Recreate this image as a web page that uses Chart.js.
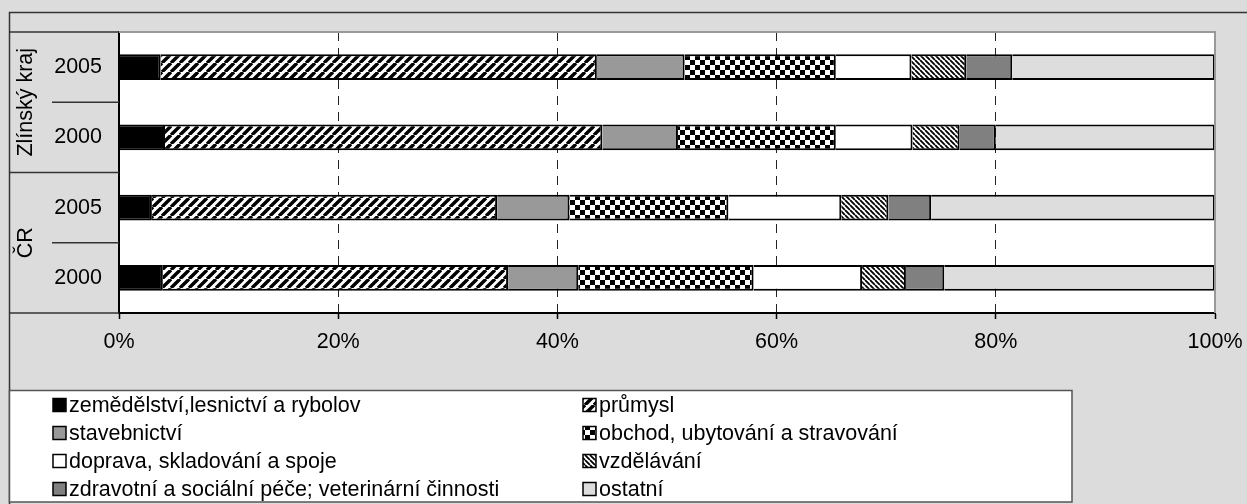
<!DOCTYPE html>
<html><head><meta charset="utf-8">
<script src="https://cdn.jsdelivr.net/npm/chart.js@4/dist/chart.umd.min.js"></script>
<style>html,body{margin:0;padding:0;background:#dcdcdc;overflow:hidden}#wrap{position:relative;width:1247px;height:504px}</style>
</head><body><div id="wrap"><canvas id="c" width="1247" height="504"></canvas></div>
<script>
const groups = ['Zlínský kraj', 'ČR'];
const years = ['2005', '2000', '2005', '2000'];
const xTicks = [0, 20, 40, 60, 80, 100];
const sectorNames = [
  'zemědělství,lesnictví a rybolov',
  'průmysl',
  'stavebnictví',
  'obchod, ubytování a stravování',
  'doprava, skladování a spoje',
  'vzdělávání',
  'zdravotní a sociální péče; veterinární činnosti',
  'ostatní'
];
const zemedelstvi = [3.8, 4.2, 3.0, 4.0];
const prumysl = [39.8, 39.9, 31.5, 31.5];
const stavebnictvi = [8.0, 6.9, 6.6, 6.4];
const obchod = [13.8, 14.4, 14.5, 16.0];
const doprava = [6.9, 7.0, 10.3, 9.9];
const vzdelavani = [5.0, 4.3, 4.3, 4.0];
const zdravotni = [4.2, 3.3, 3.9, 3.5];
const ostatni = [18.5, 20.0, 25.9, 24.7];

const FONT = "Arial, 'Liberation Sans', sans-serif";
const FS = 21.5;

function makePattern(kind) {
  const c = document.createElement('canvas');
  const g = c.getContext('2d');
  if (kind === 'fwd') {
    const p = 9; c.width = c.height = p;
    g.fillStyle = '#fff'; g.fillRect(0, 0, p, p);
    g.strokeStyle = '#000'; g.lineWidth = 3.4; g.beginPath();
    for (const x0 of [-p, 0, p]) { g.moveTo(x0, p); g.lineTo(x0 + p, 0); }
    g.stroke();
  } else if (kind === 'back') {
    const p = 5; c.width = c.height = p;
    g.fillStyle = '#fff'; g.fillRect(0, 0, p, p);
    g.strokeStyle = '#000'; g.lineWidth = 1.8; g.beginPath();
    for (const x0 of [-p, 0, p]) { g.moveTo(x0, 0); g.lineTo(x0 + p, p); }
    g.stroke();
  } else {
    const s = 5; c.width = c.height = 2 * s;
    g.fillStyle = '#fff'; g.fillRect(0, 0, 2 * s, 2 * s);
    g.fillStyle = '#000'; g.fillRect(0, 0, s, s); g.fillRect(s, s, s, s);
  }
  return g.createPattern(c, 'repeat');
}

const fills = ['#000000', makePattern('fwd'), '#999999', makePattern('check'), '#ffffff', makePattern('back'), '#808080', '#dddddd'];
const series = [zemedelstvi, prumysl, stavebnictvi, obchod, doprava, vzdelavani, zdravotni, ostatni];

const datasets = series.map((d, i) => ({
  label: sectorNames[i],
  data: d,
  backgroundColor: fills[i],
  borderColor: '#000',
  borderWidth: 2,
  borderSkipped: 'start',
  barPercentage: 0.37,
  categoryPercentage: 1.0
}));

const framePlugin = {
  id: 'frame',
  beforeDraw(chart) {
    const ctx = chart.ctx, a = chart.chartArea;
    ctx.save();
    ctx.fillStyle = '#dcdcdc';
    ctx.fillRect(0, 0, chart.width, chart.height);
    ctx.strokeStyle = '#333'; ctx.lineWidth = 1.5;
    ctx.beginPath();
    ctx.moveTo(9.5, chart.height); ctx.lineTo(9.5, 12.5); ctx.lineTo(chart.width, 12.5);
    ctx.stroke();
    ctx.fillStyle = '#fff';
    ctx.fillRect(a.left, a.top, a.right - a.left, a.bottom - a.top);
    ctx.restore();
  },
  afterDraw(chart) {
    const ctx = chart.ctx, a = chart.chartArea, ys = chart.scales.y;
    ctx.save();
    // plot border top/right
    ctx.strokeStyle = '#999'; ctx.lineWidth = 2;
    ctx.beginPath();
    ctx.moveTo(a.left, a.top); ctx.lineTo(a.right, a.top); ctx.lineTo(a.right, a.bottom);
    ctx.stroke();
    // left panel separators
    ctx.strokeStyle = '#333'; ctx.lineWidth = 1.5;
    ctx.beginPath();
    ctx.moveTo(9.5, a.top); ctx.lineTo(a.left, a.top);
    ctx.moveTo(9.5, a.bottom); ctx.lineTo(a.left, a.bottom);
    for (let i = 0; i < years.length - 1; i++) {
      const y = (ys.getPixelForValue(i) + ys.getPixelForValue(i + 1)) / 2;
      ctx.moveTo(i % 2 === 1 ? 9.5 : 52, y); ctx.lineTo(a.left, y);
    }
    ctx.stroke();
    // group labels
    ctx.fillStyle = '#000';
    ctx.font = FS + 'px ' + FONT;
    ctx.textAlign = 'center'; ctx.textBaseline = 'middle';
    groups.forEach((g, gi) => {
      const yc = (ys.getPixelForValue(2 * gi) + ys.getPixelForValue(2 * gi + 1)) / 2;
      ctx.save(); ctx.translate(26, yc); ctx.rotate(-Math.PI / 2);
      ctx.fillText(g, 0, 0); ctx.restore();
    });
    // legend
    const L = 9.5, T = 390.5, R = 1072, B = 502;
    ctx.fillStyle = '#fff'; ctx.fillRect(L, T, R - L, B - T);
    ctx.strokeStyle = '#555'; ctx.lineWidth = 1.5;
    ctx.strokeRect(L, T, R - L, B - T);
    ctx.textAlign = 'left';
    chart.data.datasets.forEach((ds, i) => {
      const row = Math.floor(i / 2), col = i % 2;
      const x = col === 0 ? 53 : 583;
      const yc = 405 + row * 28;
      ctx.fillStyle = ds.backgroundColor;
      ctx.fillRect(x, yc - 6.5, 13, 13);
      ctx.strokeStyle = '#000'; ctx.lineWidth = 1.5;
      ctx.strokeRect(x, yc - 6.5, 13, 13);
      ctx.fillStyle = '#000';
      ctx.fillText(ds.label, x + 16, yc + 1);
    });
    ctx.restore();
  }
};

new Chart(document.getElementById('c'), {
  type: 'bar',
  data: { labels: years, datasets },
  options: {
    indexAxis: 'y',
    responsive: false,
    animation: false,
    devicePixelRatio: 1,
    layout: { padding: { left: 0, top: 32, right: 32, bottom: 131 } },
    plugins: { legend: { display: false }, tooltip: { enabled: false } },
    scales: {
      x: {
        type: 'linear', stacked: true, min: 0, max: 100, position: 'bottom',
        afterBuildTicks: s => { s.ticks = xTicks.map(v => ({ value: v })); },
        ticks: { callback: v => v + '%', font: { family: FONT, size: FS }, color: '#000', padding: 10, maxRotation: 0 },
        grid: {
          color: c => (c.tick && (c.tick.value === 0 || c.tick.value === 100)) ? 'rgba(0,0,0,0)' : '#222',
          lineWidth: 1, tickColor: '#000', tickLength: 6, tickWidth: 1.5
        },
        border: { display: true, color: '#000', width: 2, dash: [9, 7] },
        afterFit: s => { s.height = 60; s.paddingLeft = 0; s.paddingRight = 0; }
      },
      y: {
        type: 'category', stacked: true,
        ticks: { font: { family: FONT, size: FS }, color: '#000', padding: 17 },
        grid: { display: false, drawTicks: false },
        border: { display: true, color: '#000', width: 2 },
        afterFit: s => { s.width = 119; s.paddingTop = 0; s.paddingBottom = 0; }
      }
    }
  },
  plugins: [framePlugin]
});
</script>
</body></html>
